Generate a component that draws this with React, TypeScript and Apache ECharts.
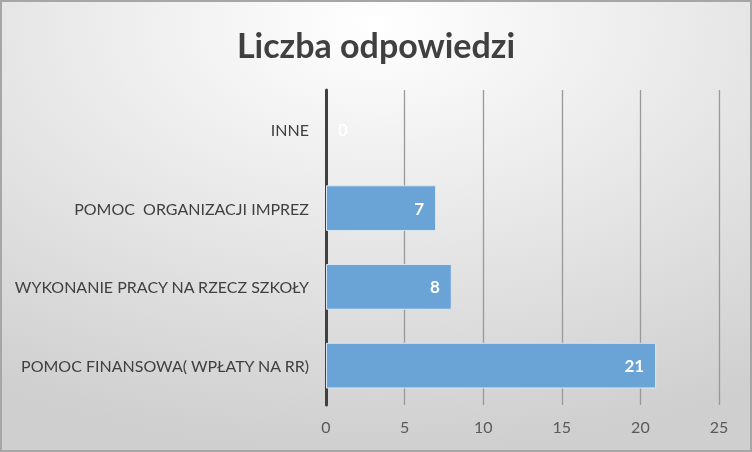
import React, { useEffect, useRef } from "react";
import * as echarts from "echarts";

const categories = [
  "POMOC FINANSOWA( WPŁATY NA RR)",
  "WYKONANIE PRACY NA RZECZ SZKOŁY",
  "POMOC  ORGANIZACJI IMPREZ",
  "INNE",
];
const values = [21, 8, 7, 0];
const titleText = "Liczba odpowiedzi";

export default function App() {
  const ref = useRef<HTMLDivElement>(null);
  useEffect(() => {
    if (!ref.current) return;
    const chart = echarts.init(ref.current, null, { renderer: "svg" });
    const font = "Lato, 'Open Sans', sans-serif";
    chart.setOption({
      animation: false,
      backgroundColor: {
        type: "radial",
        x: 0.5,
        y: 0.05,
        r: 0.95,
        colorStops: [
          { offset: 0, color: "#ffffff" },
          { offset: 1, color: "#cfcfcf" },
        ],
      },
      title: {
        text: titleText,
        left: "center",
        top: 20,
        textStyle: {
          fontFamily: font,
          fontSize: 34,
          fontWeight: "bold",
          color: "#404040",
        },
      },
      grid: { left: 324, right: 31, top: 88, bottom: 45 },
      xAxis: {
        type: "value",
        min: 0,
        max: 25,
        interval: 5,
        axisLine: { show: false },
        axisTick: { show: false },
        splitLine: { show: true, lineStyle: { color: "#999999", width: 1.3 } },
        axisLabel: {
          fontFamily: font,
          fontSize: 16,
          color: "#595959",
          margin: 13,
        },
      },
      yAxis: {
        type: "category",
        data: categories,
        axisLine: { show: true, lineStyle: { color: "#404040", width: 3 } },
        axisTick: { show: false },
        axisLabel: {
          fontFamily: font,
          fontSize: 16,
          color: "#404040",
          margin: 17,
        },
      },
      series: [
        {
          type: "bar",
          barWidth: "58%",
          data: values.map((v) => ({
            value: v,
            itemStyle: v === 0 ? { borderWidth: 0 } : undefined,
            label: v === 0 ? { position: "right", distance: 12 } : undefined,
          })),
          itemStyle: {
            color: "#6aa3d6",
            borderColor: "#d8e6f4",
            borderWidth: 1,
          },
          label: {
            show: true,
            position: "insideRight",
            distance: 12,
            color: "#ffffff",
            fontFamily: font,
            fontWeight: "bold",
            fontSize: 17,
          },
        },
      ],
    });
    return () => chart.dispose();
  }, []);
  return (
    <div
      style={{
        position: "fixed",
        left: 0,
        top: 0,
        width: 752,
        height: 452,
        boxSizing: "border-box",
        border: "2px solid #a6a6a6",
      }}
    >
      <div ref={ref} style={{ width: 748, height: 448, position: "absolute", left: 0, top: 0 }} />
    </div>
  );
}
